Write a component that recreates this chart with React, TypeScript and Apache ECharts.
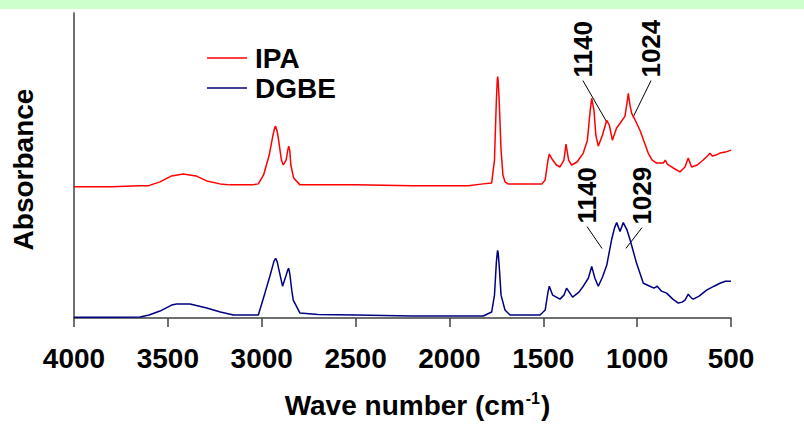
import React, { useEffect, useRef } from 'react';
import * as echarts from 'echarts';

const FONT = '"Liberation Sans", Arial, Helvetica, sans-serif';

const xTicks = [4000, 3500, 3000, 2500, 2000, 1500, 1000, 500];

const ipaWn = [4000, 3800, 3650, 3606, 3542, 3480, 3419, 3350, 3293, 3222, 3169, 3050, 3018, 2990, 2960, 2940, 2930, 2926, 2918, 2910, 2895, 2885, 2870, 2860, 2856, 2850, 2845, 2830, 2796, 2500, 2200, 1900, 1820, 1775, 1760, 1750, 1745, 1743, 1740, 1735, 1725, 1715, 1704, 1688, 1507, 1490, 1475, 1468, 1450, 1430, 1411, 1390, 1379, 1365, 1349, 1320, 1287, 1265, 1250, 1242, 1230, 1220, 1207, 1185, 1162, 1148, 1132, 1110, 1091, 1065, 1052, 1047, 1038, 1029, 1010, 985, 960, 941, 920, 896, 860, 850, 840, 808, 772, 745, 728, 710, 680, 648, 620, 612, 600, 580, 559, 530, 500];
const ipaAbs = [1.32, 1.32, 1.33, 1.33, 1.37, 1.43, 1.45, 1.43, 1.38, 1.35, 1.34, 1.34, 1.35, 1.44, 1.64, 1.84, 1.92, 1.93, 1.88, 1.79, 1.59, 1.54, 1.59, 1.70, 1.73, 1.68, 1.54, 1.41, 1.34, 1.34, 1.33, 1.33, 1.35, 1.36, 1.59, 2.19, 2.40, 2.43, 2.38, 2.19, 1.69, 1.44, 1.37, 1.35, 1.35, 1.39, 1.59, 1.65, 1.59, 1.54, 1.52, 1.59, 1.75, 1.59, 1.54, 1.57, 1.66, 1.79, 2.09, 2.21, 2.09, 1.84, 1.73, 1.84, 1.99, 1.94, 1.79, 1.91, 1.96, 2.03, 2.19, 2.26, 2.14, 2.06, 1.99, 1.89, 1.76, 1.66, 1.59, 1.56, 1.56, 1.59, 1.55, 1.51, 1.47, 1.52, 1.61, 1.52, 1.54, 1.59, 1.64, 1.66, 1.63, 1.64, 1.66, 1.67, 1.69];

const dgbeWn = [4000, 3800, 3648, 3600, 3542, 3480, 3453, 3382, 3293, 3220, 3151, 3018, 2983, 2955, 2935, 2926, 2918, 2910, 2889, 2870, 2860, 2856, 2850, 2840, 2832, 2796, 2700, 2500, 2200, 1900, 1820, 1775, 1760, 1750, 1745, 1743, 1740, 1735, 1725, 1704, 1677, 1517, 1490, 1475, 1468, 1450, 1411, 1390, 1376, 1344, 1310, 1287, 1260, 1242, 1225, 1207, 1185, 1162, 1136, 1120, 1109, 1091, 1074, 1055, 1038, 1003, 967, 932, 910, 893, 870, 843, 810, 781, 760, 745, 728, 710, 701, 670, 630, 590, 559, 530, 500];
const dgbeAbs = [0.007, 0.007, 0.01, 0.03, 0.07, 0.13, 0.14, 0.14, 0.10, 0.06, 0.03, 0.03, 0.25, 0.43, 0.57, 0.60, 0.57, 0.50, 0.32, 0.43, 0.49, 0.50, 0.44, 0.28, 0.18, 0.05, 0.035, 0.03, 0.02, 0.02, 0.02, 0.06, 0.23, 0.56, 0.66, 0.68, 0.65, 0.53, 0.23, 0.08, 0.03, 0.03, 0.08, 0.26, 0.32, 0.23, 0.19, 0.23, 0.30, 0.21, 0.26, 0.32, 0.40, 0.52, 0.40, 0.32, 0.41, 0.53, 0.79, 0.91, 0.96, 0.87, 0.96, 0.89, 0.79, 0.55, 0.35, 0.32, 0.30, 0.32, 0.27, 0.25, 0.19, 0.15, 0.16, 0.18, 0.24, 0.20, 0.19, 0.22, 0.28, 0.32, 0.35, 0.37, 0.37];

const annotationLabels = ['1140', '1024', '1140', '1029'];
const annotationFrom = [[1289, 2.39], [926, 2.39], [1267, 0.92], [974, 0.91]];
const annotationTo = [[1161, 1.97], [1022, 2.02], [1187, 0.70], [1060, 0.70]];

export default function App() {
  const ref = useRef<HTMLDivElement>(null);
  useEffect(() => {
    const chart = echarts.init(ref.current!, null, { renderer: 'svg' });
    const option: any = {
      animation: false,
      backgroundColor: '#ffffff',
      grid: { left: 74, right: 73, top: 13, bottom: 127, containLabel: false },
      legend: {
        data: ['IPA', 'DGBE'],
        orient: 'vertical',
        left: 202,
        top: 39,
        icon: 'rect',
        itemWidth: 40,
        itemHeight: 1.5,
        itemGap: 2,
        textStyle: { fontSize: 28, fontWeight: 'bold', fontFamily: FONT, color: '#000', lineHeight: 28, padding: [0, 0, 0, 3] },
      },
      xAxis: {
        type: 'value',
        inverse: true,
        min: 500,
        max: 4000,
        interval: 500,
        axisLine: { show: true, onZero: false, lineStyle: { color: '#404040', width: 1.5 } },
        axisTick: { show: true, length: 9, inside: false, lineStyle: { color: '#404040', width: 1.5 } },
        splitLine: { show: false },
        axisLabel: {
          margin: 26,
          fontSize: 28,
          fontWeight: 'bold',
          fontFamily: FONT,
          color: '#000',
          formatter: (v: number) => (xTicks.includes(v) ? String(v) : ''),
        },
        name: '{a|Wave number (cm}{s|-1}{a|)}',
        nameLocation: 'middle',
        nameGap: 72,
        nameTextStyle: {
          padding: [0, 0, 0, 30],
          rich: {
            a: { fontSize: 28, fontWeight: 'bold', fontFamily: FONT, color: '#000', lineHeight: 30 },
            s: { fontSize: 16, fontWeight: 'bold', fontFamily: FONT, color: '#000', padding: [0, 1, 14, 1], lineHeight: 30 },
          },
        },
      },
      yAxis: {
        type: 'value',
        min: 0,
        max: 3.07,
        axisLine: { show: true, lineStyle: { color: '#404040', width: 1.5 } },
        axisTick: { show: false },
        axisLabel: { show: false },
        splitLine: { show: false },
        name: 'Absorbance',
        nameLocation: 'middle',
        nameRotate: 90,
        nameGap: 37,
        nameTextStyle: { fontSize: 28, fontWeight: 'bold', fontFamily: FONT, color: '#000', padding: [0, 8, 0, 0] },
      },
      series: [
        {
          name: 'IPA',
          type: 'line',
          symbol: 'none',
          showSymbol: false,
          data: ipaWn.map((w, i) => [w, ipaAbs[i]]),
          lineStyle: { color: '#ff0000', width: 1.5 },
          itemStyle: { color: '#ff0000' },
        },
        {
          name: 'DGBE',
          type: 'line',
          symbol: 'none',
          showSymbol: false,
          data: dgbeWn.map((w, i) => [w, dgbeAbs[i]]),
          lineStyle: { color: '#000080', width: 1.5 },
          itemStyle: { color: '#000080' },
        },
      ],
    };
    chart.setOption(option);

    const graphics: any[] = [
      { type: 'rect', shape: { x: 0, y: 0, width: 804, height: 9 }, style: { fill: '#ccffcc' }, silent: true },
    ];
    annotationLabels.forEach((label, i) => {
      const p1 = chart.convertToPixel({ gridIndex: 0 }, annotationFrom[i]) as number[];
      const p2 = chart.convertToPixel({ gridIndex: 0 }, annotationTo[i]) as number[];
      graphics.push({
        type: 'line',
        shape: { x1: p1[0], y1: p1[1], x2: p2[0], y2: p2[1] },
        style: { stroke: '#000', lineWidth: 1 },
        silent: true,
      });
      graphics.push({
        type: 'text',
        x: p1[0],
        y: p1[1] - 3,
        rotation: Math.PI / 2,
        style: {
          text: label,
          fontSize: 26,
          fontWeight: 'bold',
          fontFamily: FONT,
          fill: '#000',
          align: 'left',
          verticalAlign: 'middle',
        },
        silent: true,
      });
    });
    chart.setOption({ graphic: graphics });

    return () => chart.dispose();
  }, []);
  return <div ref={ref} style={{ position: 'absolute', left: 0, top: 0, width: 804, height: 445 }} />;
}
